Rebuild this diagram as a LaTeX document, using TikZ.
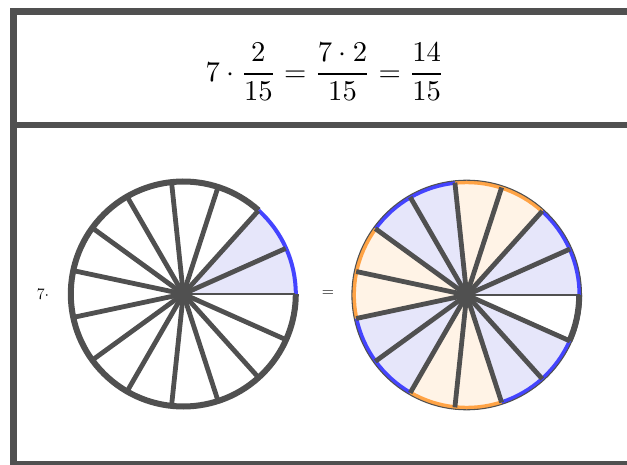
\documentclass[tikz,border=0pt]{standalone}
\usepackage{graphicx}
\usepackage{xcolor}
\usetikzlibrary{positioning}
\definecolor{framegray}{HTML}{505050}
\definecolor{bluearc}{HTML}{4444FF}
\definecolor{bluefill}{HTML}{E6E6FA}
\definecolor{orangearc}{HTML}{FFA345}
\definecolor{orangefill}{HTML}{FFF3E6}
\begin{document}
\begin{tikzpicture}[
    x=0.75pt, y=0.75pt,
    border/.style={draw=framegray, line width=4.9pt},
    rim/.style={draw=framegray, line width=4.5pt},
    spoke/.style={draw=framegray, line width=3.6pt},
    base/.style={draw=framegray, line width=2pt},
    outline/.style={draw=framegray, line width=0.8pt},
    blue fill/.style={fill=bluefill},
    orange fill/.style={fill=orangefill},
    blue rim/.style={draw=bluearc, line width=3pt},
    orange rim/.style={draw=orangearc, line width=3pt},
    lbl/.style={font=\large}
]
\useasboundingbox (0,0) rectangle (627,464);

\draw[border] (627,452.3) -- (13.3,452.3) -- (13.3,0) -- (627,0);
\draw[border] (13.3,339) -- (627,339);

\node (eq) at (325,392) {\scalebox{2.15}{$\displaystyle 7\cdot\frac{2}{15}=\frac{7\cdot 2}{15}=\frac{14}{15}$}};

\coordinate (lc) at (183.3,170);
\coordinate (rc) at (466.7,169);
\node[lbl] (factor) at (43,170) {$7\cdot$};
\node[lbl] (equals) at (328,170) {$=$};

\fill[blue fill] (lc) -- ++(0:112.5) arc[start angle=0, end angle=48, radius=112.5] -- cycle;
\draw[rim] (lc) ++(48:112.5) arc[start angle=48, end angle=360, radius=112.5];
\draw[blue rim] (lc) ++(0:112.5) arc[start angle=0, end angle=48, radius=112.5];
\foreach \a in {24,48,...,336}
  \draw[spoke] (lc) -- ++(\a:112);
\draw[base] (lc) -- ++(0:112);

\foreach \a/\c in {0/blue,48/orange,96/blue,144/orange,192/blue,240/orange,288/blue}{
  \fill[\c\space fill] (rc) -- ++(\a:113) arc[start angle=\a, delta angle=48, radius=113] -- cycle;
  \draw[\c\space rim] (rc) ++(\a:112.8) arc[start angle=\a, delta angle=48, radius=112.8];
}
\draw[outline] (rc) circle[radius=114.8];
\draw[rim] (rc) ++(336:112.5) arc[start angle=336, end angle=360, radius=112.5];
\foreach \a in {24,48,...,336}
  \draw[spoke] (rc) -- ++(\a:113);
\draw[base] (rc) -- ++(0:113);
\end{tikzpicture}
\end{document}
